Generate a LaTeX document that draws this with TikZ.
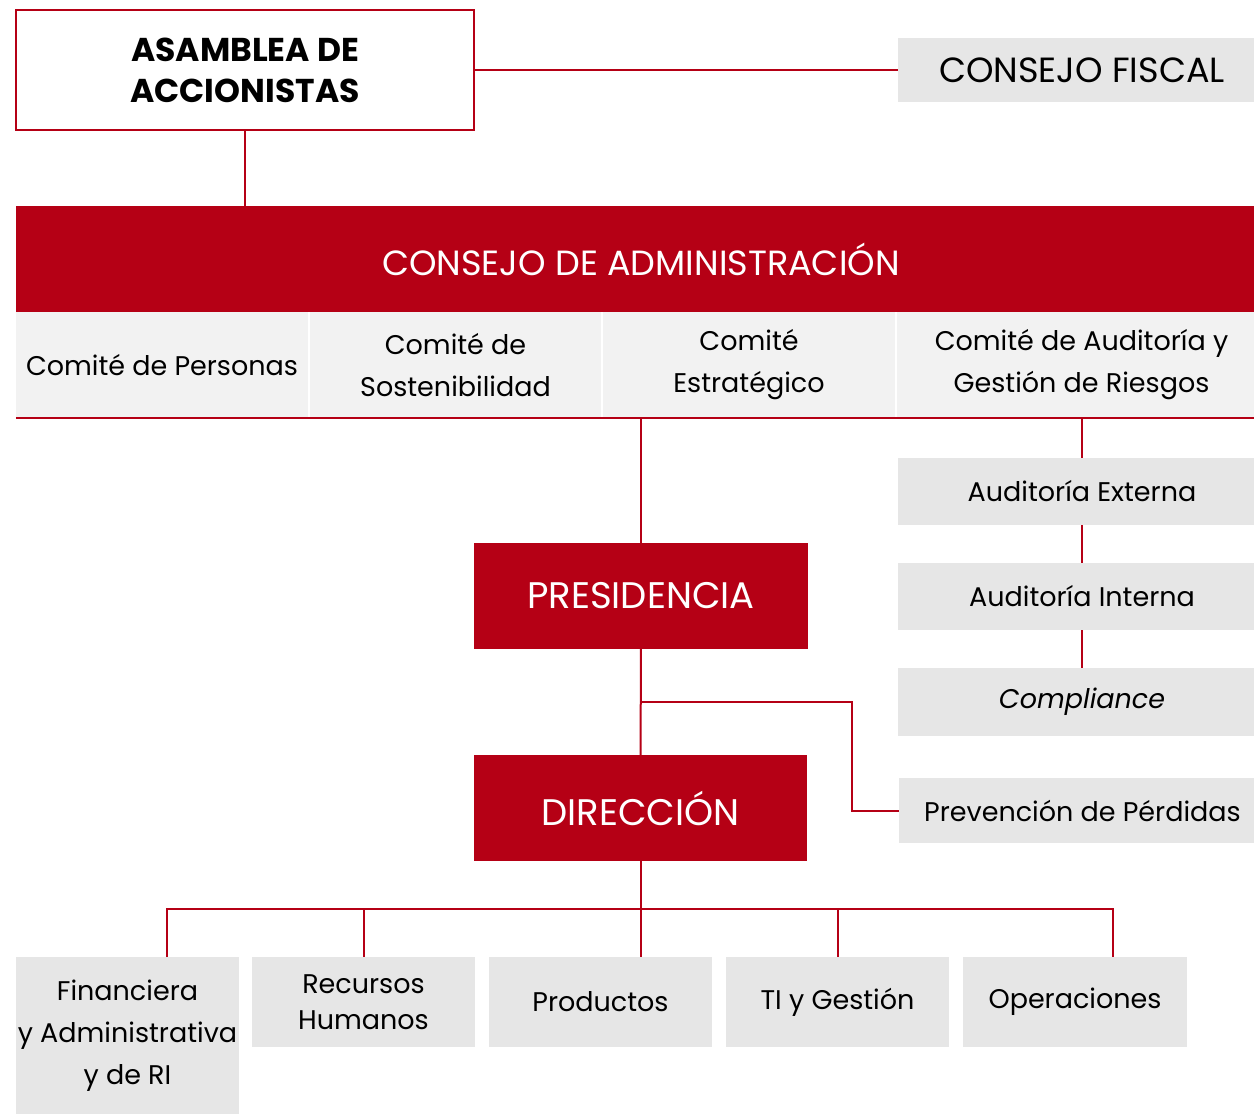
\documentclass[tikz,border=0pt]{standalone}
\usepackage{fontspec}
\setmainfont{Poppins}
\usetikzlibrary{positioning}
\definecolor{rojo}{RGB}{181,0,21}
\definecolor{gris}{RGB}{230,230,230}
\definecolor{grisclaro}{RGB}{242,242,242}
\begin{document}
\begin{tikzpicture}[x=1pt,y=-1pt,
  txt/.style={font=\fontsize{27}{42}\selectfont, align=center, inner sep=0pt},
  caja/.style={txt, fill=gris, text=black},
  comite/.style={txt, fill=grisclaro, minimum height=106, text=black},
  roja/.style={txt, fill=rojo, text=white},
  linea/.style={draw=rojo, line width=2pt}]
\useasboundingbox (0,0) rectangle (1254,1115);
% cabecera
\node[txt, draw=rojo, line width=2pt, fill=white, minimum width=458, minimum height=120, font=\fontsize{33}{41}\selectfont\bfseries] (asamblea) at (245,70){ASAMBLEA DE\\ACCIONISTAS};
\node[caja, minimum width=368, minimum height=64, font=\fontsize{35}{42}\selectfont] (fiscal) at (1082,70){CONSEJO FISCAL};
\node[roja, minimum width=1250, minimum height=106, font=\fontsize{35}{42}\selectfont] (admin) at (641,259){CONSEJO DE ADMINISTRACIÓN};
\draw[linea](asamblea) -- (fiscal);
\draw[linea](asamblea.south) -- (asamblea.south |- admin.north);
% comites
\node[comite, minimum width=292] (com1) at (162,365){Comité de Personas};
\node[comite, minimum width=291] (com2) at (455.5,365){Comité de\\Sostenibilidad};
\node[comite, minimum width=292] (com3) at (749,365){Comité\\Estratégico};
\node[comite, minimum width=369] (com4) at (1081.5,365){Comité de Auditoría y\\Gestión de Riesgos};
\draw[linea](com1.south west) -- (com4.south east);
% auditoria
\node[caja, minimum width=368, minimum height=67] (externa) at (1082,491.5){Auditoría Externa};
\node[caja, minimum width=368, minimum height=67] (interna) at (1082,596.5){Auditoría Interna};
\node[caja, minimum width=368, minimum height=68] (compliance) at (1082,702){\itshape Compliance};
\node[caja, minimum width=367, minimum height=65] (perdidas) at (1082.5,810.5){Prevención de Pérdidas};
\draw[linea](externa.north |- com4.south) -- (externa);
\draw[linea](externa) -- (interna);
\draw[linea](interna) -- (compliance);
% presidencia y direccion
\node[roja, minimum width=334, minimum height=106, font=\fontsize{37}{42}\selectfont] (presidencia) at (641,596){PRESIDENCIA};
\node[roja, minimum width=333, minimum height=106, font=\fontsize{37}{42}\selectfont] (direccion) at (640.5,808){DIRECCIÓN};
\draw[linea](presidencia.north |- com3.south) -- (presidencia);
\draw[linea](presidencia) -- (direccion);
\coordinate (rama) at (641,702);
\draw[linea](rama) -| (852,760) |- (perdidas.west);
% areas
\node[caja, minimum width=223, minimum height=157] (finanzas) at (127.5,1035.5){Financiera\\y Administrativa\\y de RI};
\node[caja, minimum width=223, minimum height=90, font=\fontsize{27}{36}\selectfont] (rrhh) at (363.5,1002){Recursos\\Humanos};
\node[caja, minimum width=223, minimum height=90] (productos) at (600.5,1002){Productos};
\node[caja, minimum width=223, minimum height=90] (ti) at (837.5,1002){TI y Gestión};
\node[caja, minimum width=224, minimum height=90] (operaciones) at (1075,1002){Operaciones};
\coordinate (bus) at (641,909);
\draw[linea](direccion) -- (direccion.south |- productos.north);
\draw[linea](167,957) |- (bus) -| (1113,957);
\draw[linea](rrhh.north) -- (rrhh.north |- bus);
\draw[linea](ti.north) -- (ti.north |- bus);
\end{tikzpicture}
\end{document}
